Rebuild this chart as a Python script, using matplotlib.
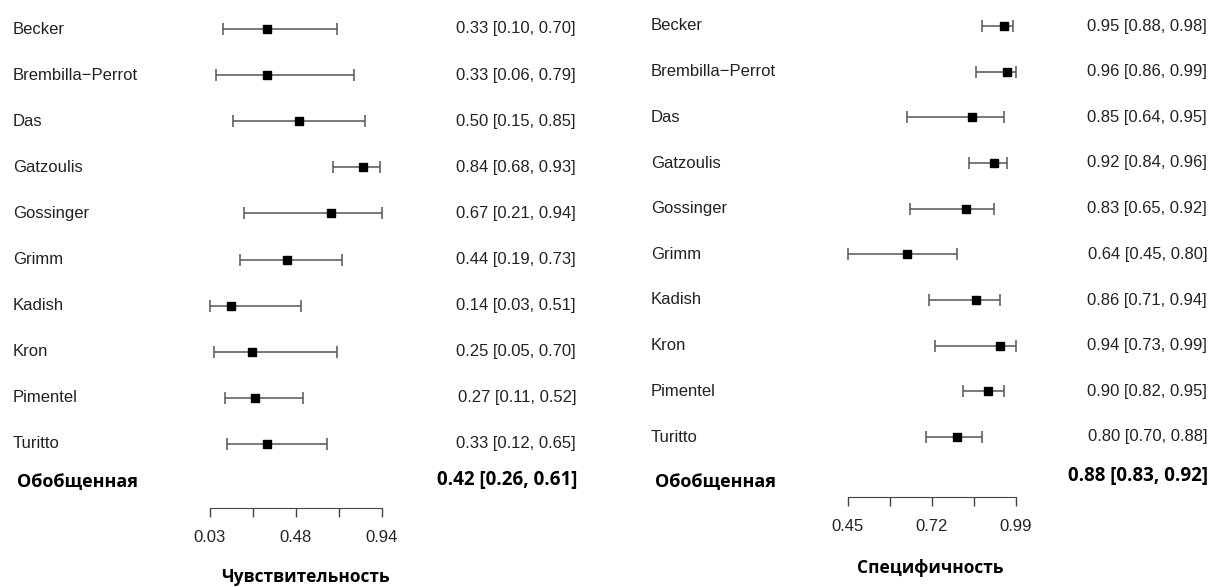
import numpy as np
import matplotlib
matplotlib.use("Agg")
import matplotlib.pyplot as plt
from matplotlib.transforms import blended_transform_factory

plt.rcParams['font.family'] = ['Liberation Sans', 'DejaVu Sans']
BOLD = ['Open Sans', 'DejaVu Sans']

# studies and their estimates with 95% CI
studies = ['Becker', 'Brembilla\u2212Perrot', 'Das', 'Gatzoulis', 'Gossinger',
           'Grimm', 'Kadish', 'Kron', 'Pimentel', 'Turitto']

sens = [0.33, 0.33, 0.50, 0.84, 0.67, 0.44, 0.14, 0.25, 0.27, 0.33]
sens_lo = [0.10, 0.06, 0.15, 0.68, 0.21, 0.19, 0.03, 0.05, 0.11, 0.12]
sens_hi = [0.70, 0.79, 0.85, 0.93, 0.94, 0.73, 0.51, 0.70, 0.52, 0.65]
sens_pooled = (0.42, 0.26, 0.61)
sens_ticks = [0.03, 0.2575, 0.485, 0.7125, 0.94]
sens_ticklabels = ['0.03', '', '0.48', '', '0.94']

spec = [0.95, 0.96, 0.85, 0.92, 0.83, 0.64, 0.86, 0.94, 0.90, 0.80]
spec_lo = [0.88, 0.86, 0.64, 0.84, 0.65, 0.45, 0.71, 0.73, 0.82, 0.70]
spec_hi = [0.98, 0.99, 0.95, 0.96, 0.92, 0.80, 0.94, 0.99, 0.95, 0.88]
spec_pooled = (0.88, 0.83, 0.92)
spec_ticks = [0.45, 0.585, 0.72, 0.855, 0.99]
spec_ticklabels = ['0.45', '', '0.72', '', '0.99']

W, H = 1211, 587
fig = plt.figure(figsize=(W / 100, H / 100), dpi=100)


def fx(px):
    return px / W


def fy(py):
    return 1 - py / H


def forest(est, lo, hi, pooled, ticks, ticklabels, title,
           box, name_x, val_x, sum_y, sum_val_y, axis_y, label_xy):
    x0, x1, y0, y1 = box
    ax = fig.add_axes([fx(x0), fy(y1), fx(x1 - x0), (y1 - y0) / H])
    ax.set_xlim(ticks[0], ticks[-1])
    ax.set_ylim(len(est) - 1, 0)
    est = np.array(est)
    idx = np.arange(len(est))
    ax.errorbar(est, idx, xerr=[est - np.array(lo), np.array(hi) - est],
                fmt='s', color='black', ms=6, ecolor='#555555',
                elinewidth=1.1, capsize=4, capthick=1.1, clip_on=False)

    tr = blended_transform_factory(fig.transFigure, ax.transData)
    for i, name in enumerate(studies):
        ax.text(fx(name_x), i, name, transform=tr, ha='left', va='center',
                fontsize=12, color='#222222')
        ax.text(fx(val_x), i, f'{est[i]:.2f} [{lo[i]:.2f}, {hi[i]:.2f}]',
                transform=tr, ha='right', va='center', fontsize=12,
                color='#222222')

    fig.text(fx(name_x + 4), fy(sum_y), 'Обобщенная', ha='left', va='center',
             fontsize=13, fontweight='bold', family=BOLD)
    m, l, h = pooled
    fig.text(fx(val_x + 1), fy(sum_val_y), f'{m:.2f} [{l:.2f}, {h:.2f}]',
             ha='right', va='center', fontsize=13.5, fontweight='bold',
             family=BOLD)

    for s in ['top', 'left', 'right']:
        ax.spines[s].set_visible(False)
    ax.spines['bottom'].set_position(('outward', (axis_y - y1) * 0.72))
    ax.spines['bottom'].set_color('#444444')
    ax.set_yticks([])
    ax.set_xticks(ticks)
    ax.set_xticklabels(ticklabels)
    ax.tick_params(axis='x', direction='out', length=6.5, width=1,
                   color='#444444', pad=9, labelsize=12,
                   labelcolor='#222222')
    fig.text(fx(label_xy[0]), fy(label_xy[1]), title, ha='center',
             va='center', fontsize=12.5, fontweight='bold', family=BOLD)
    return ax


forest(sens, sens_lo, sens_hi, sens_pooled, sens_ticks, sens_ticklabels,
       'Чувствительность', (210, 382, 29, 444), 13, 576, 482, 480, 508,
       (305, 577))
forest(spec, spec_lo, spec_hi, spec_pooled, spec_ticks, spec_ticklabels,
       'Специфичность', (848, 1016, 26, 437), 651, 1207, 482, 476, 497,
       (930, 568))

fig.savefig('out.png', dpi=100)
